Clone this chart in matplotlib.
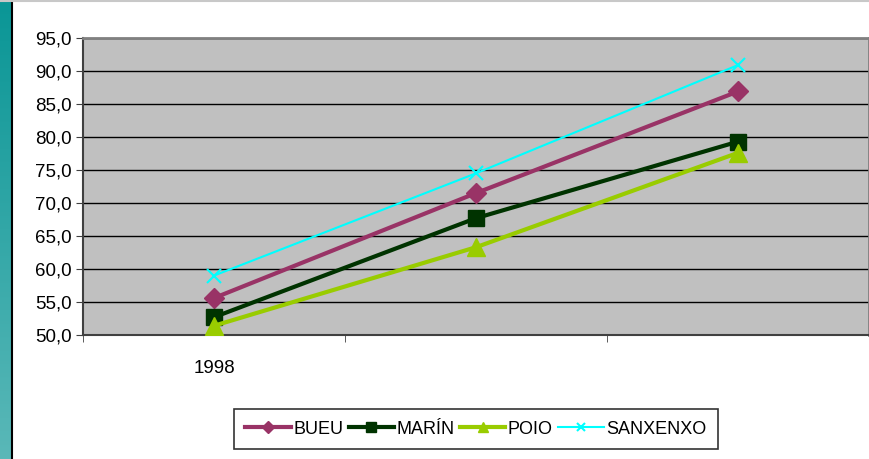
import matplotlib
matplotlib.use("Agg")
import matplotlib.pyplot as plt
import numpy as np
from matplotlib.colors import LinearSegmentedColormap

plt.rcParams['font.family'] = ['Liberation Sans', 'DejaVu Sans']

categories = ["1998", "", ""]
series_names = ["BUEU", "MARÍN", "POIO", "SANXENXO"]
bueu = [55.6, 71.5, 86.9]
marin = [52.7, 67.7, 79.3]
poio = [51.4, 63.3, 77.6]
sanxenxo = [59.0, 74.5, 90.9]
y_ticks = [50, 55, 60, 65, 70, 75, 80, 85, 90, 95]

W, H = 870, 459
fig = plt.figure(figsize=(W/100, H/100), dpi=100)

# left teal strip
strip = fig.add_axes([0, 0, 12/W, 1])
grad = np.linspace(0, 1, 256).reshape(-1, 1)
cmap = LinearSegmentedColormap.from_list("t", ["#0A9696", "#5AB8B8"])
strip.imshow(grad, aspect='auto', cmap=cmap, extent=[0, 1, 0, 1], origin='upper')
strip.set_axis_off()
fig.add_artist(plt.Line2D([12.5/W, 12.5/W], [0, 1], color='black', lw=1.5))
fig.add_artist(plt.Line2D([0, 1], [1-0.5/H, 1-0.5/H], color='#C8C8C8', lw=1.5))

ax = fig.add_axes([83/W, 1-335/H, (869-83)/W, (335-38)/H])
ax.set_facecolor('#C0C0C0')
x = np.arange(len(categories))

ax.plot(x, bueu, color='#993366', lw=3, marker='D', ms=10, label=series_names[0], zorder=4)
ax.plot(x, marin, color='#003300', lw=3, marker='s', ms=11, label=series_names[1], zorder=4)
ax.plot(x, poio, color='#99CC00', lw=3, marker='^', ms=13, label=series_names[2], zorder=4)
ax.plot(x, sanxenxo, color='#00FFFF', lw=1.5, marker='x', ms=10, mew=1.5, label=series_names[3], zorder=4)

ax.set_xlim(-0.5, len(categories)-0.5)
ax.set_ylim(50, 95)
ax.set_yticks(y_ticks)
ax.set_yticklabels([f"{v:.1f}".replace('.', ',') for v in y_ticks], fontsize=13.5)
ax.yaxis.grid(True, color='black', lw=1)
ax.set_axisbelow(True)

ax.set_xticks(x)
ax.set_xticklabels(categories, fontsize=13.5)
ax.tick_params(axis='x', length=0, pad=18)
ax.set_xticks(np.arange(len(categories)+1) - 0.5, minor=True)
ax.tick_params(axis='x', which='minor', length=5, color='#404040', direction='out')
ax.tick_params(axis='y', length=5, color='#404040', direction='out', pad=3)

for s in ['left', 'bottom']:
    ax.spines[s].set_color('#404040')
    ax.spines[s].set_linewidth(1.5)
ax.spines['top'].set_color('#808080')
ax.spines['top'].set_linewidth(2)
ax.spines['right'].set_color('#808080')
ax.spines['right'].set_linewidth(2)

leg = fig.legend(loc='center', bbox_to_anchor=(476/W, 1-429/H), ncol=4, fontsize=13,
                 frameon=True, fancybox=False, edgecolor='black', handlelength=2.5,
                 handletextpad=0.15, columnspacing=0.3, borderpad=0.65, markerscale=0.6)
leg.get_frame().set_linewidth(1.2)

fig.savefig("out.png", dpi=100, facecolor='white')
